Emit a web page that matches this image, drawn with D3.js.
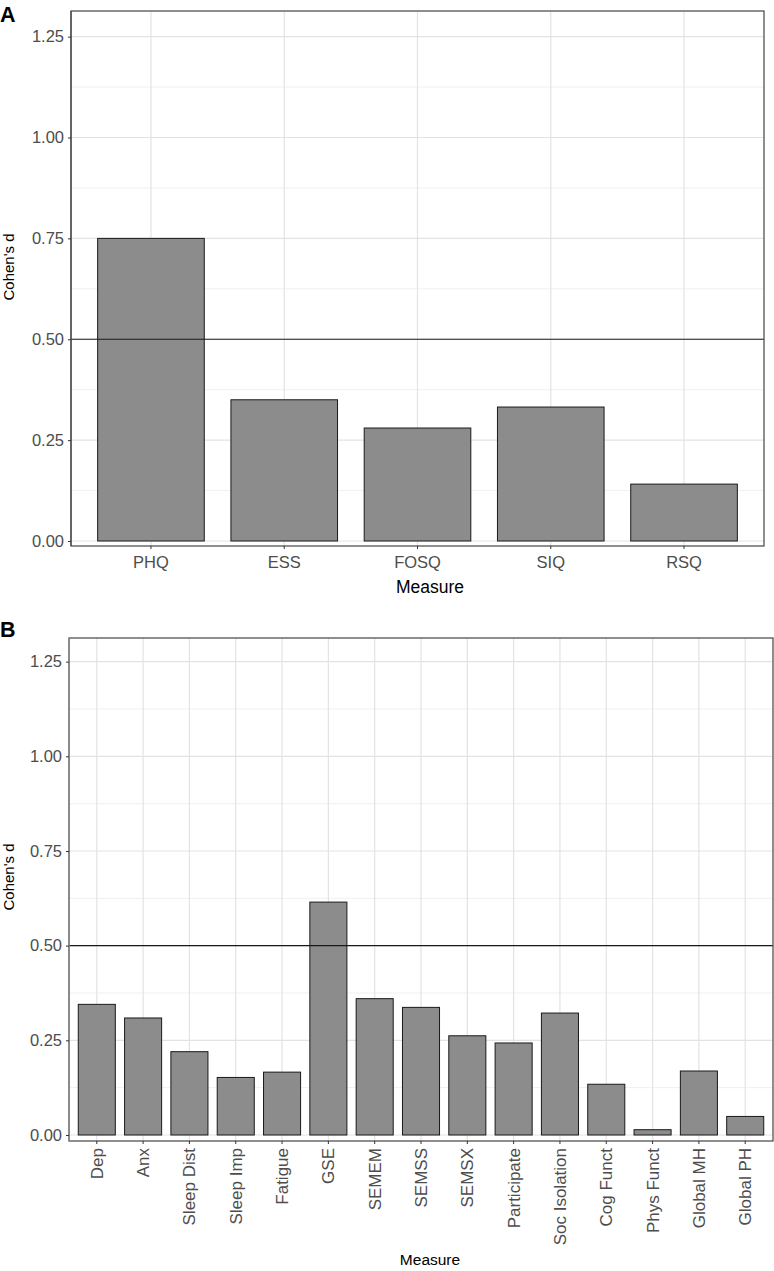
<!DOCTYPE html>
<html><head><meta charset="utf-8">
<script src="https://cdn.jsdelivr.net/npm/d3@7"></script>
<style>body{margin:0;background:#fff;} text{font-family:"Liberation Sans",Arial,sans-serif;}</style>
</head><body>
<svg id="c" width="774" height="1271"></svg>
<script>
const catsA = ["PHQ","ESS","FOSQ","SIQ","RSQ"];
const valsA = [0.75,0.35,0.28,0.332,0.141];
const catsB = ["Dep","Anx","Sleep Dist","Sleep Imp","Fatigue","GSE","SEMEM","SEMSS","SEMSX","Participate","Soc Isolation","Cog Funct","Phys Funct","Global MH","Global PH"];
const valsB = [0.345,0.309,0.22,0.152,0.166,0.615,0.36,0.337,0.262,0.243,0.322,0.134,0.014,0.169,0.049];
const yTicks = [0,0.25,0.5,0.75,1.0,1.25];
const yMinor = [0.125,0.375,0.625,0.875,1.125];
const refLine = 0.5;

const svg = d3.select("#c");

function panel(o){
  const {cats, vals, left, right, top, bottom, zeroY, unitPx, label, labelY, rotate, titleY, titleSize, yTitleY, borderLeft} = o;
  const g = svg.append("g");
  const n = cats.length;
  const unit = (right-left)/(n-1+1.2);
  const x = d3.scaleBand().domain(cats).range([left+0.6*unit-unit/2, right-0.6*unit+unit/2]).paddingInner(0.2).paddingOuter(0.1);
  const y = d3.scaleLinear().domain([(zeroY-bottom)/unitPx, (zeroY-top)/unitPx]).range([bottom, top]);
  g.selectAll(".gm").data(yMinor).join("line").attr("x1",left).attr("x2",right)
    .attr("y1",d=>y(d)).attr("y2",d=>y(d)).attr("stroke","#f0f0f0").attr("stroke-width",1);
  g.selectAll(".gy").data(yTicks).join("line").attr("x1",left).attr("x2",right)
    .attr("y1",d=>y(d)).attr("y2",d=>y(d)).attr("stroke","#e3e3e3").attr("stroke-width",1.2);
  g.selectAll(".gx").data(cats).join("line").attr("y1",top).attr("y2",bottom)
    .attr("x1",d=>x(d)+x.bandwidth()/2).attr("x2",d=>x(d)+x.bandwidth()/2).attr("stroke","#e3e3e3").attr("stroke-width",1.2);
  g.selectAll(".bar").data(cats).join("rect")
    .attr("x",d=>x(d)).attr("width",x.bandwidth())
    .attr("y",(d,i)=>y(vals[i])).attr("height",(d,i)=>y(0)-y(vals[i]))
    .attr("fill","#8c8c8c").attr("stroke","#1a1a1a").attr("stroke-width",1);
  g.append("line").attr("x1",left).attr("x2",right).attr("y1",y(refLine)).attr("y2",y(refLine))
    .attr("stroke","#1a1a1a").attr("stroke-width",1.1);
  g.append("rect").attr("x",left).attr("y",top).attr("width",right-left).attr("height",bottom-top)
    .attr("fill","none").attr("stroke","#444").attr("stroke-width",1.2);
  g.append("line").attr("x1",left).attr("x2",left).attr("y1",top).attr("y2",bottom)
    .attr("stroke",borderLeft).attr("stroke-width",1.4);
  const ya = g.append("g").attr("transform",`translate(${left},0)`)
    .call(d3.axisLeft(y).tickValues(yTicks).tickFormat(d3.format(".2f")).tickSize(3).tickPadding(4));
  ya.select(".domain").remove();
  ya.selectAll("line").attr("stroke","#333");
  ya.selectAll("text").attr("fill","#4d4d4d").style("font-size","16.5px");
  const xa = g.append("g").attr("transform",`translate(0,${bottom})`)
    .call(d3.axisBottom(x).tickSize(3).tickPadding(3));
  xa.select(".domain").remove();
  xa.selectAll("line").attr("stroke","#333");
  xa.selectAll("text").attr("fill","#4d4d4d").style("font-size", rotate ? "17px" : "16.5px");
  if (rotate){
    xa.selectAll("text").attr("transform","rotate(-90)").attr("text-anchor","end")
      .attr("dy","0.35em").attr("x",-7).attr("y",0);
  } else {
    xa.selectAll("text").attr("dy","0.95em");
  }
  g.append("text").attr("x",430).attr("y",titleY).attr("text-anchor","middle")
    .style("font-size",titleSize).attr("fill","#000").text("Measure");
  g.append("text").attr("transform",`translate(14,${yTitleY}) rotate(-90)`).attr("text-anchor","middle")
    .style("font-size","15px").attr("fill","#000").text("Cohen's d");
  g.append("text").attr("x",0).attr("y",labelY).style("font-size","21.5px").style("font-weight","bold").attr("fill","#000").text(label);
}

panel({cats:catsA, vals:valsA, left:71, right:764, top:11, bottom:546, zeroY:541, unitPx:403.5, label:"A", labelY:22, rotate:false, titleY:593, titleSize:"17.5px", yTitleY:267, borderLeft:"#555"});
panel({cats:catsB, vals:valsB, left:69, right:773, top:638, bottom:1141, zeroY:1135, unitPx:378.7, label:"B", labelY:637, rotate:true, titleY:1265, titleSize:"15.5px", yTitleY:877, borderLeft:"#8a8a8a"});
</script>
</body></html>
